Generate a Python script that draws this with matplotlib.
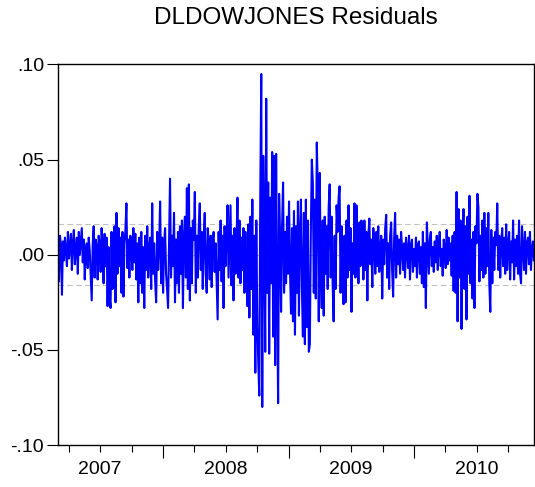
import pandas as pd
import matplotlib
matplotlib.use("Agg")
import matplotlib.pyplot as plt
import matplotlib.dates as mdates
import matplotlib.transforms as mtransforms

plt.rcParams['font.family'] = ['Liberation Sans', 'DejaVu Sans']

# residuals, in thousandths
resid_2007 = [8, -14, 10, 5, -21, 7, -3, 9, 2, -6, 12, -2, 4, 11, -8, 6, 13, -5, 3, 9,
              -10, 12, 0, 7, 14, -4, 8, -13, 3, 6, -7, 9, 2, -11, -24, 5, 15, -12, 8, 4,
              -13, 10, 6, -9, 14, 2, -15, 11, -6, 9, -27, 4, -22, -28, 12, -18, 8, 15, -25, 22,
              -10, 14, -6, 9, -20, 12, -22, 5, 13, 27, -7, 8, -12, 10, 3, -8, 14, -4, 11, -13,
              6, -25, 9, -15, 12, -20, 4, -28, 10, -8, 15, -12, 3, 9, -18, 27, -10, 6, -14, -25,
              12, -8, 4, 28, -15, 9]
resid_2008 = [-20, 6, 14, -10, -18, -28, 7, 40, -12, 10, -6, 22, -25, 8,
              -15, 12, -20, 15, -10, 18, -28, 9, 20, -12, 35, -18, 37, -24, 14, -15, 18, 8, 33, -20,
              10, -12, 15, 27, -8, 12, -18, 9, 22, -10, -20, 14, 6, -13, 10, -17, 8, 12, -9, 6,
              -15, -34, 12, -8, 18, -14, 10, -28, 15, -6, 9, 26, -12, 8, 26, -16, 10, -24, 14, -10,
              6, 30, -12, 18, -15, 9, -8, 14, -20, 12, -10, -27, 16, -33, 20, -18, 29, -42, 10, -62,
              18, -35, -57, -74, 30, 95, -80, 52, 10, -51, 82, -20, 38, -52, 30, -15, 54, -43, 52, -58,
              53, -20, -78, 32, 10, -30, 15, 38, -20, 12, -15, 20, -10]
resid_2009 = [28, -8, -31, 14, -35, 23, -42,
              15, -20, 28, -32, 10, 29, -18, -43, 22, -47, 29, -38, 18, -51, -47, 12, 50, 38, -20, 29,
              -23, 59, 35, -35, 43, -12, -28, 18, -32, 20, -10, 15, -18, 25, 37, -12, 20, -15, -35, 10,
              -18, 26, 12, 30, 36, -20, 15, -8, -26, 10, -25, 18, -12, 26, -8, 14, -30, 6, -10, 27,
              -12, 26, 8, -15, 17, -6, 18, 9, -13, 18, -8, 12, -24, 10, 19, -5, 8, -17, 14, 6,
              -10, 12, -6, 15, -9, 4, 10, -23, 8, -5, 14, 21, -12, 6, -18, 10, 17, -8, -22, 8,
              22, -12, 10, -5, 8, -10, 12, 4, -8, 6, -12, 9, 3, -7, 10, -13, 5, 8, -9]
resid_2010 = [3,
              -6, 9, -12, 5, 7, -10, 4, -15, 12, -17, 6, -28, 17, 3, -10, 8, 12, -6, 4, -9,
              7, -4, 10, -8, 5, 12, -6, 3, -11, 8, 4, -7, 13, -5, 9, -3, 6, -11, 10, -19,
              12, -20, 33, -35, 24, -12, 18, -39, 10, 24, -18, 15, -34, 20, -10, 31, -15, 8, -23, 12,
              -28, 15, 6, 32, 25, -14, 10, -8, 18, -12, 22, -10, 14, -6, 22, -15, -30, 13, -15, 9,
              -8, 12, 5, 27, -8, 10, -12, 6, 14, -6, 9, -10, 16, -8, 5, 12, -13, 7, -4, 18,
              -13, 8, -6, 10, -10, 18, -10, -15, 15, 4, -8, 12, -10, 6, 9, -5, 12, -8, 3, 7, -3]

resid = [v / 1000 for v in resid_2007 + resid_2008 + resid_2009 + resid_2010]
dates = pd.date_range("2007-03-01", "2010-12-15", periods=len(resid))
se = 0.016
years = [2007, 2008, 2009, 2010]
yticks = [-0.10, -0.05, 0.00, 0.05, 0.10]
ylabels = ["-.10", "-.05", ".00", ".05", ".10"]

fig = plt.figure(figsize=(5.35, 4.87), dpi=100)
ax = fig.add_axes([0.1084, 0.0862, 0.8896, 0.7814])

for lvl in (se, 0.0, -se):
    ax.axhline(lvl, color="#c0c0c0", lw=0.8, ls=(0, (5, 3)), zorder=1)
ax.plot(dates, resid, color="#0000ff", lw=1.5, zorder=2)

ax.set_ylim(-0.10, 0.10)
ax.set_xlim(dates[0], dates[-1])
ax.set_yticks(yticks)
ax.set_yticklabels(ylabels, fontsize=14)
ax.tick_params(axis="y", length=8, width=0.8, pad=2)

ax.xaxis.set_major_locator(mdates.YearLocator())
ax.xaxis.set_minor_locator(mdates.MonthLocator(bymonth=[4, 7, 10]))
ax.xaxis.set_major_formatter(plt.NullFormatter())
ax.tick_params(axis="x", which="major", length=9, width=0.8)
ax.tick_params(axis="x", which="minor", length=5, width=0.8)

trans = mtransforms.blended_transform_factory(ax.transData, ax.transAxes)
for yr in years:
    ax.text(pd.Timestamp(f"{yr}-07-01"), -0.042, str(yr), transform=trans,
            ha="center", va="top", fontsize=14)

for s in ax.spines.values():
    s.set_linewidth(1.0)

fig.text(0.553, 0.963, "DLDOWJONES Residuals", ha="center", va="center", fontsize=17.5)

fig.savefig("out.png", dpi=100)
